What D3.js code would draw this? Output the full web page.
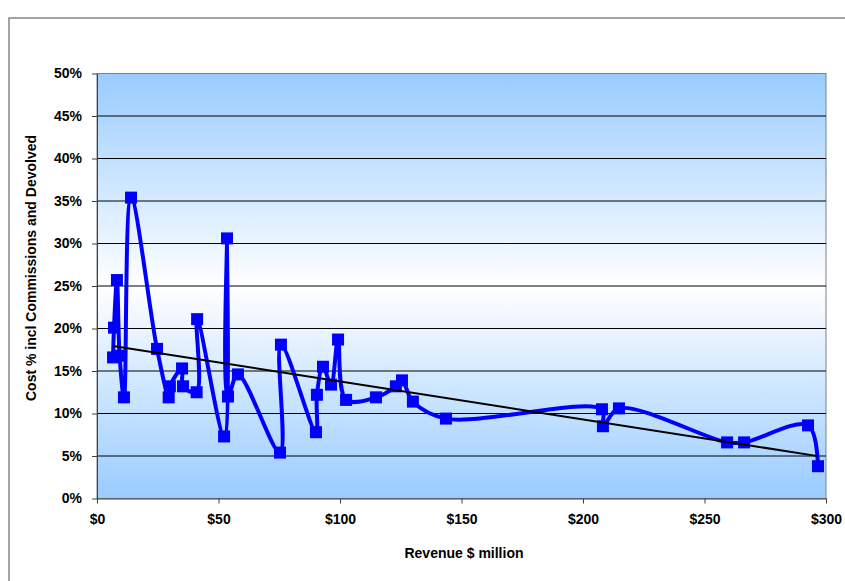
<!DOCTYPE html>
<html>
<head>
<meta charset="utf-8">
<script src="https://cdn.jsdelivr.net/npm/d3@7/dist/d3.min.js"></script>
<style>
  html, body { margin: 0; padding: 0; background: #fff; }
  svg { display: block; }
  text { font-family: "Liberation Sans", Arial, sans-serif; font-weight: bold; fill: #000; }
</style>
</head>
<body>
<svg id="chart" width="845" height="581"></svg>
<script>
// Revenue ($ million) and cost ratio (%) for each business, in revenue order
const revenue = [6.6, 7.0, 8.2, 9.3, 11.1, 14.0, 24.7, 29.5, 30.0, 35.0, 35.4, 41.0, 41.2,
  52.3, 53.5, 53.9, 58.0, 75.3, 75.7, 90.1, 90.5, 93.0, 96.3, 99.2, 102.5, 114.8,
  123.0, 125.5, 130.0, 143.6, 207.8, 208.2, 214.8, 259.3, 266.3, 292.6, 296.7];
const costPct = [16.6, 20.1, 25.7, 16.8, 11.9, 35.4, 17.6, 11.9, 13.2, 15.3, 13.2, 12.5, 21.1,
  7.3, 30.6, 12.0, 14.6, 5.4, 18.1, 7.8, 12.2, 15.5, 13.4, 18.7, 11.6, 11.9,
  13.2, 13.9, 11.4, 9.4, 10.5, 8.5, 10.6, 6.6, 6.6, 8.6, 3.8];

const xTicks = [0, 50, 100, 150, 200, 250, 300];
const yTicks = [0, 5, 10, 15, 20, 25, 30, 35, 40, 45, 50];
const xTitle = "Revenue $ million";
const yTitle = "Cost % incl Commissions and Devolved";

const points = revenue.map((r, i) => ({ x: r, y: costPct[i] }));

const svg = d3.select("#chart");
const plot = { left: 97, right: 826, top: 73.5, bottom: 498.5 };
const fontSize = 14;

const x = d3.scaleLinear().domain([0, 300]).range([plot.left, plot.right]);
const y = d3.scaleLinear().domain([0, 50]).range([plot.bottom, plot.top]);

// Outer chart frame
svg.append("rect")
  .attr("x", 9).attr("y", 18).attr("width", 850).attr("height", 600)
  .attr("fill", "#fff").attr("stroke", "#858585").attr("stroke-width", 1.5);

// Plot background: blue at the edges fading to white in the middle
const defs = svg.append("defs");
const grad = defs.append("linearGradient").attr("id", "plotBg")
  .attr("x1", 0).attr("y1", 0).attr("x2", 0).attr("y2", 1);
grad.append("stop").attr("offset", "0%").attr("stop-color", "#99ccff");
grad.append("stop").attr("offset", "50%").attr("stop-color", "#ffffff");
grad.append("stop").attr("offset", "100%").attr("stop-color", "#99ccff");

svg.append("rect")
  .attr("x", plot.left).attr("y", plot.top)
  .attr("width", plot.right - plot.left).attr("height", plot.bottom - plot.top)
  .attr("fill", "url(#plotBg)").attr("stroke", "#808080").attr("stroke-width", 1);

// Horizontal gridlines
svg.append("g").selectAll("line")
  .data(yTicks.filter(t => t > 0 && t < 50))
  .join("line")
  .attr("x1", plot.left).attr("x2", plot.right)
  .attr("y1", d => y(d)).attr("y2", d => y(d))
  .attr("stroke", "#000").attr("stroke-width", 1);

// Axes
const yAxis = d3.axisLeft(y).tickValues(yTicks).tickFormat(d => d + "%")
  .tickSizeInner(5).tickSizeOuter(0).tickPadding(10);
const xAxis = d3.axisBottom(x).tickValues(xTicks).tickFormat(d => "$" + d)
  .tickSizeInner(5).tickSizeOuter(0).tickPadding(11);

const gy = svg.append("g").attr("transform", `translate(${plot.left},0)`).call(yAxis);
const gx = svg.append("g").attr("transform", `translate(0,${plot.bottom})`).call(xAxis);
[gy, gx].forEach(g => {
  g.select(".domain").attr("stroke", "#404040").attr("stroke-width", 1);
  g.selectAll(".tick line").attr("stroke", "#404040");
  g.selectAll(".tick text")
    .attr("font-family", "'Liberation Sans', Arial, sans-serif")
    .attr("font-weight", "bold").attr("font-size", fontSize).attr("fill", "#000");
});

// Linear least-squares trend line across the revenue range
const mx = d3.mean(points, d => d.x), my = d3.mean(points, d => d.y);
const slope = d3.sum(points, d => (d.x - mx) * (d.y - my)) / d3.sum(points, d => (d.x - mx) ** 2);
const icpt = my - slope * mx;
const [x0, x1] = d3.extent(revenue);

// Smoothed series line
const line = d3.line().x(d => x(d.x)).y(d => y(d.y)).curve(d3.curveCatmullRom.alpha(0.5));
svg.append("path").datum(points)
  .attr("d", line).attr("fill", "none")
  .attr("stroke", "#0000ff").attr("stroke-width", 4).attr("stroke-linejoin", "round");

// Markers
const ms = 12;
svg.append("g").selectAll("rect").data(points).join("rect")
  .attr("x", d => x(d.x) - ms / 2).attr("y", d => y(d.y) - ms / 2)
  .attr("width", ms).attr("height", ms)
  .attr("fill", "#0000ff");

svg.append("line")
  .attr("x1", x(x0)).attr("y1", y(icpt + slope * x0))
  .attr("x2", x(x1)).attr("y2", y(icpt + slope * x1))
  .attr("stroke", "#000").attr("stroke-width", 2);

// Axis titles
svg.append("text")
  .attr("x", 464).attr("y", 558)
  .attr("text-anchor", "middle").attr("font-size", fontSize)
  .text(xTitle);
svg.append("text")
  .attr("transform", "translate(36,268) rotate(-90)")
  .attr("text-anchor", "middle").attr("font-size", fontSize)
  .text(yTitle);
</script>
</body>
</html>
